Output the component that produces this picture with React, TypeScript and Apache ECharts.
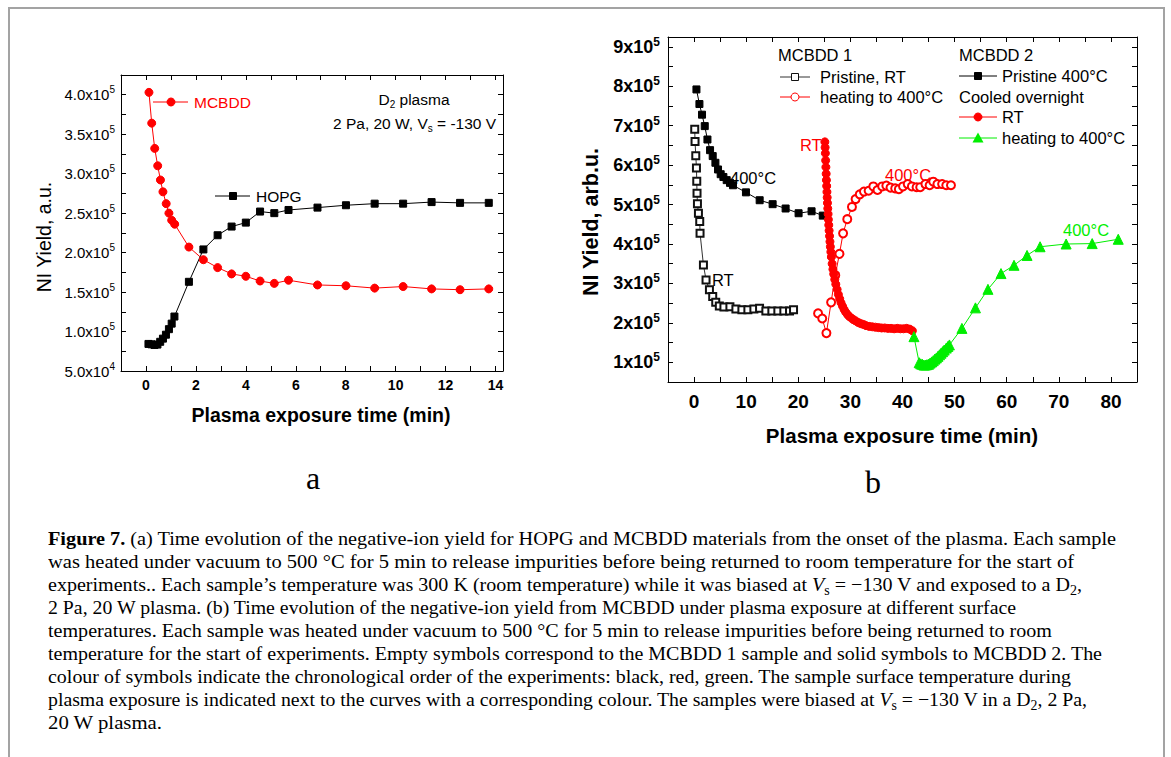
import React, { useEffect, useLayoutEffect, useRef } from 'react';
import * as echarts from 'echarts';

const SANS = '"Liberation Sans", Arial, Helvetica, sans-serif';
const SERIF = '"Liberation Serif", "Times New Roman", Times, serif';

// ---------------- Panel (a): NI yield (units of 1e5 a.u.) vs time (min) ----------------
const aMcbddTime = [0.12, 0.23, 0.35, 0.47, 0.58, 0.68, 0.81, 0.92, 1.03, 1.15, 1.72, 2.30, 2.87, 3.43, 4.00, 4.57, 5.14, 5.71, 6.87, 8.01, 9.16, 10.30, 11.44, 12.58, 13.73];
const aMcbddYield = [4.03, 3.64, 3.32, 3.10, 2.92, 2.77, 2.62, 2.50, 2.41, 2.36, 2.07, 1.91, 1.81, 1.73, 1.70, 1.64, 1.61, 1.65, 1.59, 1.58, 1.55, 1.57, 1.54, 1.53, 1.54];
const aHopgTime = [0.10, 0.22, 0.34, 0.46, 0.57, 0.68, 0.80, 0.92, 1.03, 1.14, 1.72, 2.30, 2.87, 3.43, 4.00, 4.57, 5.14, 5.71, 6.87, 8.01, 9.16, 10.30, 11.44, 12.58, 13.73];
const aHopgYield = [0.843, 0.838, 0.83, 0.835, 0.87, 0.91, 0.96, 1.03, 1.10, 1.19, 1.63, 2.04, 2.22, 2.33, 2.38, 2.52, 2.50, 2.54, 2.57, 2.60, 2.62, 2.62, 2.64, 2.63, 2.63];

// ---------------- Panel (b): NI yield (units of 1e5 arb.u.) vs time (min) ----------------
// MCBDD 1, pristine, RT (open black squares)
const b1RtTime = [0.13, 0.19, 0.33, 0.46, 0.52, 0.57, 0.65, 0.84, 1.09, 1.15, 1.80, 2.30, 2.95, 3.58, 4.16, 4.85, 5.73, 6.88, 8.03, 9.18, 10.33, 11.48, 12.57, 13.78, 14.93, 16.08, 17.23, 18.32, 19.09];
const b1RtYield = [6.91, 6.60, 6.24, 5.93, 5.59, 5.29, 5.02, 4.78, 4.57, 4.27, 3.47, 3.09, 2.84, 2.67, 2.52, 2.43, 2.40, 2.41, 2.35, 2.33, 2.33, 2.35, 2.37, 2.30, 2.30, 2.30, 2.30, 2.30, 2.33];
// MCBDD 1, heating to 400 °C (open red circles)
const b1HeatTime = [23.8, 24.6, 25.4, 26.3, 27.1, 27.9, 28.6, 29.4, 30.3, 31.0, 31.8, 32.6, 33.5, 34.4, 35.2, 36.1, 36.9, 37.7, 38.6, 39.3, 40.1, 41.0, 41.8, 42.7, 43.4, 44.4, 45.2, 45.9, 46.7, 47.6, 48.4, 49.3];
const b1HeatYield = [2.24, 2.11, 1.74, 2.52, 3.21, 3.75, 4.27, 4.63, 4.94, 5.14, 5.26, 5.33, 5.35, 5.46, 5.37, 5.46, 5.48, 5.43, 5.41, 5.39, 5.46, 5.52, 5.46, 5.44, 5.44, 5.52, 5.49, 5.58, 5.52, 5.52, 5.49, 5.49];
// MCBDD 2, pristine 400 °C (filled black squares)
const b2HotTime = [0.46, 1.03, 1.53, 2.05, 2.57, 3.07, 3.58, 4.10, 4.60, 5.11, 5.63, 6.26, 6.90, 7.47, 9.96, 12.59, 15.08, 17.57, 20.06, 22.55, 24.70];
const b2HotYield = [7.92, 7.55, 7.28, 6.99, 6.65, 6.38, 6.23, 6.06, 5.89, 5.77, 5.70, 5.62, 5.55, 5.49, 5.31, 5.11, 5.01, 4.90, 4.78, 4.83, 4.72];
// MCBDD 2, cooled overnight, RT (filled red circles)
const b2RtTime = [25.10, 25.15, 25.20, 25.25, 25.30, 25.35, 25.40, 25.45, 25.50, 25.55, 25.60, 25.66, 25.72, 25.78, 25.85, 25.92, 26.00, 26.08, 26.16, 26.25, 26.35, 26.50, 26.65, 26.80, 27.00, 27.20, 27.45, 27.70, 27.95, 28.20, 28.50, 28.80, 29.10, 29.45, 29.80, 30.20, 30.60, 31.00, 31.50, 32.00, 32.50, 33.00, 33.60, 34.20, 34.80, 35.40, 36.00, 36.60, 37.20, 37.80, 38.40, 39.00, 39.60, 40.20, 40.80, 41.40, 41.90];
const b2RtYield = [6.59, 6.45, 6.30, 6.12, 5.95, 5.78, 5.62, 5.47, 5.32, 5.18, 5.04, 4.90, 4.76, 4.62, 4.48, 4.34, 4.20, 4.06, 3.93, 3.80, 3.67, 3.50, 3.36, 3.24, 3.10, 2.98, 2.85, 2.72, 2.61, 2.51, 2.42, 2.34, 2.27, 2.21, 2.16, 2.12, 2.08, 2.05, 2.01, 1.98, 1.96, 1.93, 1.91, 1.90, 1.89, 1.88, 1.87, 1.87, 1.86, 1.86, 1.85, 1.86, 1.85, 1.85, 1.86, 1.84, 1.80];
// MCBDD 2, heating to 400 °C (green triangles)
const b2HeatTime = [42.2, 43.2, 43.5, 43.8, 44.1, 44.4, 44.7, 45.0, 45.3, 45.6, 45.9, 46.2, 46.5, 46.8, 47.1, 47.4, 47.7, 48.0, 48.4, 48.7, 49.0, 51.4, 54.0, 56.4, 58.9, 61.4, 63.9, 66.4, 71.4, 76.4, 81.4];
const b2HeatYield = [1.65, 0.99, 0.96, 0.95, 0.93, 0.93, 0.94, 0.95, 0.98, 1.01, 1.04, 1.08, 1.11, 1.15, 1.19, 1.23, 1.27, 1.31, 1.36, 1.40, 1.44, 1.86, 2.38, 2.85, 3.25, 3.46, 3.71, 3.93, 4.00, 4.01, 4.12];

// caption line end positions (px) used to fit each line's width
const captionEnds = [1116, 1074, 1082, 1016, 1052, 1102, 1071, 1087, 162];

const pairs = (xs: number[], ys: number[]) => xs.map((x, i) => [x, ys[i]]);
const near = (v: number, step: number) => Math.abs(v / step - Math.round(v / step)) < 1e-6;

const axisBase = {
  type: 'value',
  axisLine: { show: true, onZero: false, lineStyle: { color: '#000', width: 1 } },
  axisTick: { show: true, inside: true, length: 5, lineStyle: { color: '#000', width: 1 } },
  splitLine: { show: false },
};

function buildOption() {
  const RED = '#ff0000';
  const GREEN = '#00ee00';
  const BLACK = '#000000';
  const line = (name: string, xs: number[], ys: number[], xi: number, yi: number, symbol: string, size: number, color: string, lineColor?: string) => ({
    name,
    type: 'line',
    xAxisIndex: xi,
    yAxisIndex: yi,
    data: pairs(xs, ys),
    symbol,
    symbolSize: size,
    showSymbol: true,
    showAllSymbol: true,
    lineStyle: { color: lineColor || color, width: 1 },
    itemStyle: { color, borderColor: color, borderWidth: 1 },
    emphasis: { disabled: true },
    z: 3,
  });

  const txt = (x: number, y: number, text: string, color: string, size: number, extra: any = {}) => ({
    type: 'text', x, y, z: 10,
    style: { text, fill: color, fontSize: size, fontFamily: SANS, verticalAlign: 'middle', align: 'left', ...extra },
  });
  const seg = (x1: number, x2: number, y: number, color: string) => ({
    type: 'line', z: 10, shape: { x1, y1: y, x2, y2: y }, style: { stroke: color, lineWidth: 1 },
  });
  const sq = (cx: number, cy: number, s: number, fill: string, stroke: string) => ({
    type: 'rect', z: 11, shape: { x: cx - s / 2, y: cy - s / 2, width: s, height: s }, style: { fill, stroke, lineWidth: 1 },
  });
  const circ = (cx: number, cy: number, r: number, fill: string, stroke: string) => ({
    type: 'circle', z: 11, shape: { cx, cy, r }, style: { fill, stroke, lineWidth: 1 },
  });
  const tri = (cx: number, cy: number, s: number, fill: string) => ({
    type: 'polygon', z: 11, shape: { points: [[cx, cy - s * 0.55], [cx + s * 0.55, cy + s * 0.45], [cx - s * 0.55, cy + s * 0.45]] }, style: { fill },
  });

  const fmtAY = (v: number) => {
    if (!near(v, 0.5) || v > 4.01) return '';
    return v < 1 ? `{b|${(v * 10).toFixed(1)}x10}{s|4}` : `{b|${v.toFixed(1)}x10}{s|5}`;
  };
  const fmtAX = (v: number) => (near(v, 2) && v >= -0.01 && v <= 14.01 ? String(Math.round(v)) : '');
  const fmtBY = (v: number) => (near(v, 1) && v >= 0.99 && v <= 9.01 ? `{b|${Math.round(v)}x10}{s|5}` : '');
  const fmtBX = (v: number) => (near(v, 10) && v >= -0.01 && v <= 80.01 ? String(Math.round(v)) : '');

  const richA = {
    b: { fontSize: 15, fontFamily: SANS, color: '#000', lineHeight: 20, verticalAlign: 'middle' },
    s: { fontSize: 10, fontFamily: SANS, color: '#000', lineHeight: 10, verticalAlign: 'top' },
  };
  const richB = {
    b: { fontSize: 18, fontFamily: SANS, fontWeight: 'bold', color: '#000', lineHeight: 22, verticalAlign: 'middle' },
    s: { fontSize: 12, fontFamily: SANS, fontWeight: 'bold', color: '#000', lineHeight: 12, verticalAlign: 'top' },
  };

  return {
    animation: false,
    backgroundColor: '#ffffff',
    grid: [
      { left: 121, top: 75, width: 382, height: 296, outerBoundsMode: 'none' },
      { left: 668, top: 37, width: 469, height: 345, outerBoundsMode: 'none' },
    ],
    xAxis: [
      { ...axisBase, gridIndex: 0, position: 'bottom', min: -1, max: 14.3, interval: 1,
        axisLabel: { show: true, margin: 7, color: '#000', fontFamily: SANS, fontSize: 14, fontWeight: 'bold', formatter: fmtAX, showMinLabel: true, showMaxLabel: true } },
      { ...axisBase, gridIndex: 0, position: 'top', min: -1, max: 14.3, interval: 1, axisLabel: { show: false } },
      { ...axisBase, gridIndex: 1, position: 'bottom', min: -5, max: 85, interval: 5,
        axisLabel: { show: true, margin: 10, color: '#000', fontFamily: SANS, fontSize: 19, fontWeight: 'bold', formatter: fmtBX, showMinLabel: true, showMaxLabel: true } },
      { ...axisBase, gridIndex: 1, position: 'top', min: -5, max: 85, interval: 5, axisLabel: { show: false } },
    ],
    yAxis: [
      { ...axisBase, gridIndex: 0, position: 'left', min: 0.5, max: 4.25, interval: 0.25,
        axisLabel: { show: true, margin: 6, formatter: fmtAY, rich: richA, showMinLabel: true, showMaxLabel: true } },
      { ...axisBase, gridIndex: 0, position: 'right', min: 0.5, max: 4.25, interval: 0.25, axisLabel: { show: false } },
      { ...axisBase, gridIndex: 1, position: 'left', min: 0.5, max: 9.25, interval: 0.5,
        axisLabel: { show: true, margin: 8, formatter: fmtBY, rich: richB, showMinLabel: true, showMaxLabel: true } },
      { ...axisBase, gridIndex: 1, position: 'right', min: 0.5, max: 9.25, interval: 0.5, axisLabel: { show: false } },
    ],
    series: [
      line('MCBDD', aMcbddTime, aMcbddYield, 0, 0, 'circle', 8, RED),
      line('HOPG', aHopgTime, aHopgYield, 0, 0, 'rect', 7, BLACK),
      line('MCBDD 1 Pristine, RT', b1RtTime, b1RtYield, 2, 2, 'emptyRect', 7, '#111', '#333'),
      line('MCBDD 2 Pristine 400°C', b2HotTime, b2HotYield, 2, 2, 'rect', 7, BLACK),
      line('MCBDD 1 heating to 400°C', b1HeatTime, b1HeatYield, 2, 2, 'emptyCircle', 8, RED),
      line('MCBDD 2 RT', b2RtTime, b2RtYield, 2, 2, 'circle', 8, RED),
      line('MCBDD 2 heating to 400°C', b2HeatTime, b2HeatYield, 2, 2, 'triangle', 10, GREEN),
    ],
    graphic: [
      // panel a legend and notes
      seg(153, 188, 102, RED), circ(171, 102, 4, RED, RED), txt(194, 102, 'MCBDD', RED, 15.5),
      seg(215, 250, 196, BLACK), sq(233, 196, 7, BLACK, BLACK), txt(256, 196, 'HOPG', BLACK, 15.5),
      { type: 'text', x: 414, y: 99, z: 10, style: { text: '{n|D}{u|2}{n| plasma}', align: 'center', verticalAlign: 'middle',
        rich: { n: { fontSize: 15.5, fontFamily: SANS, color: '#000', lineHeight: 20 }, u: { fontSize: 10, fontFamily: SANS, color: '#000', lineHeight: 10, verticalAlign: 'bottom' } } } },
      { type: 'text', x: 333, y: 123, z: 10, style: { text: '{n|2 Pa, 20 W, V}{u|s}{n| = -130 V}', align: 'left', verticalAlign: 'middle',
        rich: { n: { fontSize: 15.5, fontFamily: SANS, color: '#000', lineHeight: 20 }, u: { fontSize: 10, fontFamily: SANS, color: '#000', lineHeight: 10, verticalAlign: 'bottom' } } } },
      // panel a axis titles
      { type: 'text', x: 44, y: 237, rotation: Math.PI / 2, z: 10, style: { text: 'NI Yield, a.u.', fill: '#000', fontSize: 19.5, fontFamily: SANS, align: 'center', verticalAlign: 'middle' } },
      txt(321, 415, 'Plasma exposure time (min)', '#000', 19.5, { align: 'center', fontWeight: 'bold' }),
      // panel b legend
      txt(778, 55, 'MCBDD 1', '#000', 16.5),
      seg(780, 810, 77, '#333'), sq(795, 77, 7, '#fff', '#111'), txt(820, 77, 'Pristine, RT', '#000', 16.5),
      seg(780, 810, 97, RED), circ(795, 97, 4, '#fff', RED), txt(820, 97, 'heating to 400°C', '#000', 16.5),
      txt(959, 55, 'MCBDD 2', '#000', 16.5),
      seg(959, 997, 76, BLACK), sq(978, 76, 7, BLACK, BLACK), txt(1002, 76, 'Pristine 400°C', '#000', 16.5),
      txt(959, 97, 'Cooled overnight', '#000', 16.5),
      seg(959, 997, 117, RED), circ(978, 117, 4, RED, RED), txt(1002, 117, 'RT', '#000', 16.5),
      seg(959, 997, 138, GREEN), tri(978, 138, 10, GREEN), txt(1002, 138, 'heating to 400°C', '#000', 16.5),
      // panel b curve annotations
      txt(730, 178, '400°C', '#000', 16.5),
      txt(712, 280, 'RT', '#000', 16.5),
      txt(800, 145, 'RT', RED, 16.5),
      txt(885, 175, '400°C', RED, 16.5),
      txt(1063, 230, '400°C', GREEN, 16.5),
      // panel b axis titles
      { type: 'text', x: 591, y: 222, rotation: Math.PI / 2, z: 10, style: { text: 'NI Yield, arb.u.', fill: '#000', fontSize: 21.5, fontWeight: 'bold', fontFamily: SANS, align: 'center', verticalAlign: 'middle' } },
      txt(902, 435, 'Plasma exposure time (min)', '#000', 20.5, { align: 'center', fontWeight: 'bold' }),
      // panel letters
      { type: 'text', x: 313, y: 478, z: 10, style: { text: 'a', fill: '#000', fontSize: 32, fontFamily: SERIF, align: 'center', verticalAlign: 'middle' } },
      { type: 'text', x: 873, y: 482, z: 10, style: { text: 'b', fill: '#000', fontSize: 32, fontFamily: SERIF, align: 'center', verticalAlign: 'middle' } },
    ],
  };
}

const sub = (t: string) => (
  <span style={{ fontSize: '0.7em', verticalAlign: '-0.3em', lineHeight: 0 }}>{t}</span>
);
const Vs = () => (<><i>V</i>{sub('s')}</>);

const captionLines: React.ReactNode[] = [
  <><b>Figure 7.</b> (a) Time evolution of the negative-ion yield for HOPG and MCBDD materials from the onset of the plasma. Each sample</>,
  <>was heated under vacuum to 500 °C for 5 min to release impurities before being returned to room temperature for the start of</>,
  <>experiments.. Each sample’s temperature was 300 K (room temperature) while it was biased at <Vs /> = −130 V and exposed to a D{sub('2')},</>,
  <>2 Pa, 20 W plasma. (b) Time evolution of the negative-ion yield from MCBDD under plasma exposure at different surface</>,
  <>temperatures. Each sample was heated under vacuum to 500 °C for 5 min to release impurities before being returned to room</>,
  <>temperature for the start of experiments. Empty symbols correspond to the MCBDD 1 sample and solid symbols to MCBDD 2. The</>,
  <>colour of symbols indicate the chronological order of the experiments: black, red, green. The sample surface temperature during</>,
  <>plasma exposure is indicated next to the curves with a corresponding colour. The samples were biased at <Vs /> = −130 V in a D{sub('2')}, 2 Pa,</>,
  <>20 W plasma.</>,
];

const CAP_LEFT = 48;
const CAP_TOP = 538;
const CAP_STEP = 23;

export default function App() {
  const chartRef = useRef<HTMLDivElement>(null);
  const lineRefs = useRef<(HTMLSpanElement | null)[]>([]);

  useEffect(() => {
    const el = chartRef.current;
    if (!el) return;
    const chart = echarts.init(el, undefined, { renderer: 'svg' });
    chart.setOption(buildOption() as any);
    return () => chart.dispose();
  }, []);

  useLayoutEffect(() => {
    lineRefs.current.forEach((el, i) => {
      if (!el) return;
      el.style.transform = 'none';
      const w = el.getBoundingClientRect().width;
      const target = captionEnds[i] - CAP_LEFT;
      if (w > 0) el.style.transform = `scaleX(${target / w})`;
    });
  }, []);

  return (
    <div style={{ position: 'absolute', left: 0, top: 0, width: 1171, height: 757, background: '#fff', overflow: 'hidden' }}>
      <div ref={chartRef} style={{ position: 'absolute', left: 0, top: 0, width: 1171, height: 500 }} />
      <div style={{ position: 'absolute', left: 8, top: 7, width: 1157, height: 800, border: '2px solid #a3a3a3', boxSizing: 'border-box', pointerEvents: 'none' }} />
      {captionLines.map((content, i) => (
        <span
          key={i}
          ref={(r) => { lineRefs.current[i] = r; }}
          style={{
            position: 'absolute', left: CAP_LEFT, top: CAP_TOP + i * CAP_STEP - 11.5, height: 23, lineHeight: '23px',
            whiteSpace: 'nowrap', display: 'inline-block', transformOrigin: '0 50%',
            fontFamily: SERIF, fontSize: 19.5, color: '#000',
          }}
        >
          {content}
        </span>
      ))}
    </div>
  );
}
